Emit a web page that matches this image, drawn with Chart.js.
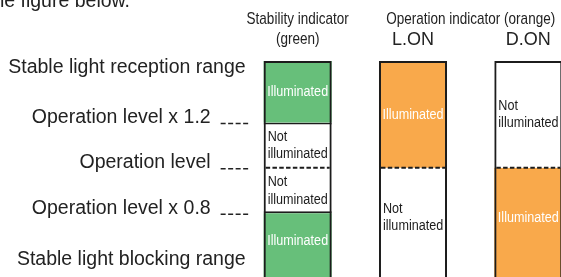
<!DOCTYPE html>
<html>
<head>
<meta charset="utf-8">
<script src="https://cdn.jsdelivr.net/npm/chart.js@4.4.0/dist/chart.umd.min.js"></script>
<style>
    html, body { margin: 0; padding: 0; background: #fff; overflow: hidden; }
    #wrap { width: 561px; height: 277px; overflow: hidden; }
</style>
</head>
<body>
<div id="wrap"><canvas id="chart" width="600" height="277"></canvas></div>
<script>
// columns and their headings
const columns = ["Stability", "L.ON", "D.ON"];
const columnTitles = ["Stability indicator", "Operation indicator (orange)"];
const columnSubtitles = ["(green)", "L.ON", "D.ON"];

// light level, in multiples of the operation level
const scaleTop = 1.47;
const scaleBottom = 0.52;
const levelValues = [1.2, 1.0, 0.8];
const levelLabels = ["Operation level x 1.2", "Operation level", "Operation level x 0.8"];
const rangeLabels = ["Stable light reception range", "Stable light blocking range"];

// indicator segments per column: [from, to] level, null = no segment
const upperSeg = [[1.2, scaleTop], [1.0, scaleTop], [1.0, scaleTop]];
const midHighSeg = [[1.0, 1.2], null, null];
const midLowSeg = [[0.8, 1.0], null, null];
const lowerSeg = [[scaleBottom, 0.8], [scaleBottom, 1.0], [scaleBottom, 1.0]];
// is the indicator lit in that segment
const upperLit = [true, true, false];
const midHighLit = [false, false, false];
const midLowLit = [false, false, false];
const lowerLit = [true, false, true];
// where the dashed line (operation level) crosses each column
const dashedLevel = [1.0, 1.0, 1.0];

const GREEN = "#67bf7a";
const ORANGE = "#f9a94b";
const INK = "#1c1c1c";
const litColors = [GREEN, ORANGE, ORANGE];
const FONT = '"Liberation Sans", Arial, Helvetica, sans-serif';

function layer(segs, lit, extra) {
    return {
        data: segs,
        lit: lit,
        backgroundColor: segs.map((s, i) => (lit[i] ? litColors[i] : "#ffffff")),
        borderColor: INK,
        borderWidth: 0,
        borderSkipped: false,
        grouped: false,
        order: 1,
        ...extra,
    };
}

const datasets = [
    layer(upperSeg, upperLit),
    layer(midHighSeg, midHighLit, { borderWidth: { top: 2, left: 0, right: 0, bottom: 0 } }),
    layer(midLowSeg, midLowLit, { borderWidth: { top: 0, left: 0, right: 0, bottom: 2 } }),
    layer(lowerSeg, lowerLit),
    {
        // column outline
        data: columns.map(() => [scaleBottom, scaleTop]),
        backgroundColor: "rgba(0,0,0,0)",
        borderColor: INK,
        borderWidth: { top: 2, left: 2, right: 2, bottom: 0 },
        borderSkipped: false,
        grouped: false,
        order: 0,
    },
];
const OUTLINE = datasets.length - 1;

// condensed look: squeeze the text horizontally
function narrowText(ctx, text, x, y, sx) {
    ctx.save();
    ctx.translate(x, y);
    ctx.scale(sx, 1);
    ctx.fillText(text, 0, 0);
    ctx.restore();
}

const overlay = {
    id: "overlay",
    afterDatasetsDraw(chart) {
        const { ctx, chartArea, scales: { x, y } } = chart;
        const bars = chart.getDatasetMeta(OUTLINE).data;

        // dashed operation level across every column
        ctx.save();
        ctx.strokeStyle = INK;
        ctx.lineWidth = 2;
        ctx.setLineDash([4.5, 2.3]);
        bars.forEach((bar, i) => {
            const yy = y.getPixelForValue(dashedLevel[i]);
            ctx.beginPath();
            ctx.moveTo(bar.x - bar.width / 2 + 2, yy);
            ctx.lineTo(bar.x + bar.width / 2 - 2, yy);
            ctx.stroke();
        });
        ctx.restore();

        // texts inside the segments
        ctx.save();
        ctx.textBaseline = "middle";
        ctx.font = "14px " + FONT;
        for (let d = 0; d < OUTLINE; d++) {
            const ds = chart.data.datasets[d];
            chart.getDatasetMeta(d).data.forEach((el, i) => {
                if (!ds.data[i]) return;
                const atBottom = ds.data[i][0] === scaleBottom;
                const cy = (el.y + el.base) / 2 + (atBottom ? -4.5 : 0.5);
                if (ds.lit[i]) {
                    ctx.fillStyle = "#ffffff";
                    ctx.textAlign = "center";
                    narrowText(ctx, "Illuminated", el.x, cy, 0.9);
                } else {
                    ctx.fillStyle = INK;
                    ctx.textAlign = "left";
                    const lx = el.x - el.width / 2 + 4;
                    narrowText(ctx, "Not", lx, cy - 8.7, 0.9);
                    narrowText(ctx, "illuminated", lx, cy + 8.7, 0.9);
                }
            });
        }
        ctx.restore();

        // level labels on the left with their dashes
        const firstLeft = bars[0].x - bars[0].width / 2;
        ctx.save();
        ctx.fillStyle = "#222222";
        ctx.font = "19.5px " + FONT;
        ctx.textAlign = "right";
        ctx.textBaseline = "alphabetic";
        levelValues.forEach((v, i) => {
            const yy = y.getPixelForValue(v);
            ctx.fillText(levelLabels[i], firstLeft - 53, yy + 0.5);
            ctx.save();
            ctx.strokeStyle = "#222222";
            ctx.lineWidth = 1.5;
            ctx.setLineDash([5, 2.5]);
            ctx.beginPath();
            ctx.moveTo(firstLeft - 43, yy + 1);
            ctx.lineTo(firstLeft - 15, yy + 1);
            ctx.stroke();
            ctx.restore();
        });
        ctx.fillText(rangeLabels[0], firstLeft - 18, y.getPixelForValue(scaleTop) + 12);
        ctx.fillText(rangeLabels[1], firstLeft - 18, y.getPixelForValue(scaleBottom) - 12);

        // running text above, cut by the frame
        ctx.fillText("the figure below.", 130, 6.5);
        ctx.restore();

        // column headings
        const top = chartArea.top;
        ctx.save();
        ctx.fillStyle = "#222222";
        ctx.textAlign = "center";
        ctx.textBaseline = "alphabetic";
        ctx.font = "17px " + FONT;
        narrowText(ctx, columnTitles[0], x.getPixelForValue(0), top - 37, 0.795);
        narrowText(ctx, columnTitles[1], (x.getPixelForValue(1) + x.getPixelForValue(2)) / 2, top - 37, 0.795);
        narrowText(ctx, columnSubtitles[0], x.getPixelForValue(0), top - 17, 0.795);
        ctx.font = "18px " + FONT;
        ctx.fillText(columnSubtitles[1], x.getPixelForValue(1), top - 16);
        ctx.fillText(columnSubtitles[2], x.getPixelForValue(2), top - 16);
        ctx.restore();
    },
};

new Chart(document.getElementById("chart"), {
    type: "bar",
    data: { labels: columns, datasets },
    options: {
        responsive: false,
        animation: false,
        devicePixelRatio: 1,
        layout: { padding: { left: 240, right: 14, top: 61, bottom: 0 } },
        plugins: { legend: { display: false }, tooltip: { enabled: false } },
        datasets: { bar: { barPercentage: 0.59, categoryPercentage: 1 } },
        scales: {
            x: { display: false },
            y: { display: false, min: scaleBottom, max: scaleTop },
        },
    },
    plugins: [overlay],
});
</script>
</body>
</html>
